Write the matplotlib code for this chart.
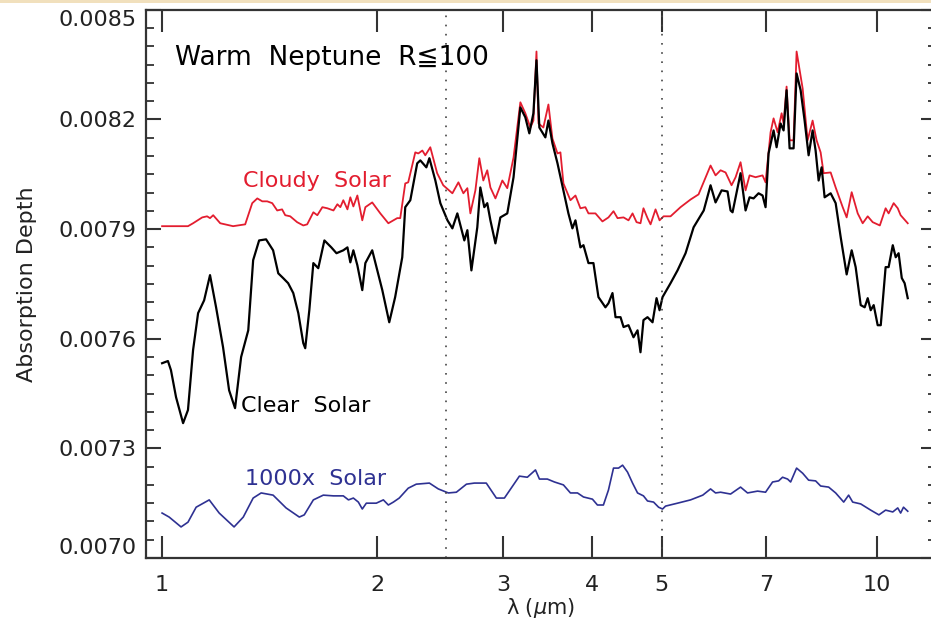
import matplotlib
matplotlib.use("Agg")
import matplotlib.pyplot as plt
from matplotlib.ticker import FixedLocator, NullLocator, MultipleLocator
from matplotlib.patches import Rectangle

plt.rcParams['font.family'] = ['DejaVu Sans', 'Noto Sans CJK JP']

# Clear solar (black)
clear_wl = [1.000, 1.019, 1.029, 1.046, 1.070, 1.087, 1.105, 1.123, 1.145, 1.167,
            1.190, 1.217, 1.241, 1.265, 1.290, 1.320, 1.341, 1.367, 1.398, 1.430,
            1.454, 1.477, 1.501, 1.526, 1.551, 1.576, 1.586, 1.607, 1.628, 1.654,
            1.687, 1.725, 1.754, 1.793, 1.817, 1.834, 1.852, 1.876, 1.906, 1.925,
            1.968, 2.033, 2.079, 2.119, 2.168, 2.189, 2.225, 2.275, 2.298, 2.343,
            2.366, 2.412, 2.451, 2.508, 2.548, 2.589, 2.648, 2.674, 2.709, 2.761,
            2.788, 2.824, 2.851, 2.880, 2.927, 2.974, 3.041, 3.103, 3.172, 3.223,
            3.265, 3.308, 3.341, 3.372, 3.438, 3.472, 3.517, 3.575, 3.644, 3.703,
            3.751, 3.788, 3.849, 3.887, 3.950, 4.014, 4.079, 4.172, 4.213, 4.268,
            4.310, 4.380, 4.423, 4.494, 4.567, 4.627, 4.671, 4.716, 4.778, 4.856,
            4.919, 4.967, 5.015, 5.146, 5.263, 5.401, 5.543, 5.727, 5.854, 5.949,
            6.066, 6.183, 6.244, 6.284, 6.448, 6.553, 6.638, 6.724, 6.833, 6.922,
            6.989, 7.057, 7.172, 7.242, 7.336, 7.407, 7.479, 7.552, 7.650, 7.724,
            7.825, 7.926, 8.029, 8.133, 8.212, 8.292, 8.373, 8.454, 8.620, 8.760,
            8.903, 9.076, 9.224, 9.343, 9.496, 9.619, 9.713, 9.807, 9.902, 10.03,
            10.13, 10.29, 10.39, 10.53, 10.63, 10.73, 10.84, 10.94, 11.05]
clear_depth = [0.007533, 0.007539, 0.007514, 0.007440, 0.007369, 0.007405, 0.007569, 0.007670, 0.007705, 0.007774,
               0.007686, 0.007577, 0.007459, 0.007410, 0.007550, 0.007623, 0.007815, 0.007869, 0.007872, 0.007842,
               0.007779, 0.007766, 0.007752, 0.007725, 0.007670, 0.007588, 0.007574, 0.007678, 0.007807, 0.007793,
               0.007869, 0.007850, 0.007834, 0.007842, 0.007850, 0.007809, 0.007842, 0.007801, 0.007733, 0.007807,
               0.007842, 0.007733, 0.007645, 0.007714, 0.007823, 0.007960, 0.007979, 0.008080, 0.008088, 0.008069,
               0.008094, 0.008033, 0.007971, 0.007924, 0.007902, 0.007943, 0.007869, 0.007897, 0.007787, 0.007905,
               0.008014, 0.007960, 0.007971, 0.007924, 0.007861, 0.007932, 0.007943, 0.008042, 0.008233, 0.008206,
               0.008162, 0.008217, 0.008362, 0.008178, 0.008151, 0.008197, 0.008135, 0.008080, 0.008006, 0.007943,
               0.007902, 0.007924, 0.007850, 0.007856, 0.007807, 0.007807, 0.007714, 0.007686, 0.007697, 0.007725,
               0.007659, 0.007659, 0.007632, 0.007637, 0.007604, 0.007623, 0.007563, 0.007651, 0.007659, 0.007645,
               0.007711, 0.007678, 0.007714, 0.007752, 0.007787, 0.007834, 0.007905, 0.007951, 0.008020, 0.007973,
               0.008006, 0.008003, 0.007951, 0.007946, 0.008053, 0.007951, 0.007987, 0.007984, 0.007998, 0.007992,
               0.007960, 0.008107, 0.008170, 0.008124, 0.008189, 0.008170, 0.008280, 0.008121, 0.008121, 0.008326,
               0.008280, 0.008197, 0.008102, 0.008170, 0.008115, 0.008033, 0.008069, 0.007987, 0.007998, 0.007971,
               0.007878, 0.007776, 0.007842, 0.007796, 0.007692, 0.007686, 0.007711, 0.007678, 0.007692, 0.007637,
               0.007637, 0.007796, 0.007796, 0.007856, 0.007823, 0.007834, 0.007766, 0.007752, 0.007711]

# Cloudy solar (red)
cloudy_wl = [1.000, 1.087, 1.105, 1.138, 1.156, 1.167, 1.179, 1.206, 1.257, 1.307,
             1.337, 1.359, 1.381, 1.403, 1.426, 1.449, 1.472, 1.487, 1.511, 1.545,
             1.576, 1.596, 1.628, 1.649, 1.676, 1.703, 1.737, 1.759, 1.776, 1.793,
             1.817, 1.834, 1.852, 1.876, 1.906, 1.925, 1.968, 2.020, 2.073, 2.133,
             2.154, 2.189, 2.210, 2.261, 2.283, 2.313, 2.335, 2.373, 2.426, 2.474,
             2.548, 2.598, 2.640, 2.674, 2.700, 2.744, 2.779, 2.815, 2.851, 2.880,
             2.927, 2.993, 3.041, 3.103, 3.172, 3.223, 3.276, 3.308, 3.341, 3.363,
             3.416, 3.472, 3.517, 3.575, 3.609, 3.644, 3.727, 3.788, 3.849, 3.911,
             3.950, 4.040, 4.132, 4.213, 4.282, 4.338, 4.423, 4.494, 4.553, 4.612,
             4.671, 4.716, 4.778, 4.825, 4.903, 4.967, 5.032, 5.146, 5.314, 5.489,
             5.632, 5.854, 5.949, 6.046, 6.144, 6.264, 6.346, 6.448, 6.553, 6.638,
             6.768, 6.922, 6.989, 7.103, 7.172, 7.266, 7.360, 7.407, 7.479, 7.552,
             7.650, 7.724, 7.876, 8.003, 8.133, 8.238, 8.346, 8.427, 8.620, 8.760,
             8.961, 9.076, 9.224, 9.405, 9.557, 9.713, 9.870, 10.10, 10.29, 10.39,
             10.56, 10.70, 10.80, 11.05]
cloudy_depth = [0.007908, 0.007908, 0.007916, 0.007932, 0.007935, 0.007930, 0.007938, 0.007916, 0.007908, 0.007913,
                0.007971, 0.007984, 0.007976, 0.007976, 0.007971, 0.007951, 0.007954, 0.007938, 0.007935, 0.007919,
                0.007910, 0.007913, 0.007946, 0.007938, 0.007960, 0.007957, 0.007951, 0.007968, 0.007960, 0.007979,
                0.007954, 0.007987, 0.007962, 0.007992, 0.007924, 0.007960, 0.007973, 0.007943, 0.007916, 0.007930,
                0.007930, 0.008025, 0.008028, 0.008110, 0.008107, 0.008115, 0.008102, 0.008124, 0.008053, 0.008020,
                0.007998, 0.008028, 0.007998, 0.008012, 0.007943, 0.008006, 0.008094, 0.008033, 0.008061, 0.008014,
                0.007984, 0.008033, 0.008012, 0.008096, 0.008247, 0.008217, 0.008178, 0.008197, 0.008386, 0.008189,
                0.008178, 0.008241, 0.008148, 0.008107, 0.008110, 0.008025, 0.007979, 0.007992, 0.007957, 0.007960,
                0.007943, 0.007943, 0.007921, 0.007932, 0.007949, 0.007930, 0.007932, 0.007924, 0.007943, 0.007919,
                0.007916, 0.007957, 0.007930, 0.007913, 0.007954, 0.007924, 0.007935, 0.007935, 0.007960, 0.007981,
                0.007995, 0.008074, 0.008047, 0.008061, 0.008055, 0.008020, 0.008042, 0.008083, 0.008006, 0.008047,
                0.008042, 0.008047, 0.008028, 0.008165, 0.008203, 0.008165, 0.008217, 0.008189, 0.008290, 0.008143,
                0.008143, 0.008386, 0.008285, 0.008143, 0.008197, 0.008143, 0.008110, 0.008053, 0.008055, 0.008014,
                0.007960, 0.007932, 0.008001, 0.007943, 0.007916, 0.007935, 0.007919, 0.007910, 0.007957, 0.007943,
                0.007971, 0.007957, 0.007938, 0.007916]

# 1000x solar (blue)
metal_wl = [1.000, 1.023, 1.063, 1.087, 1.116, 1.164, 1.202, 1.261, 1.299, 1.341,
            1.376, 1.430, 1.491, 1.556, 1.581, 1.628, 1.681, 1.737, 1.793, 1.823,
            1.852, 1.882, 1.906, 1.931, 1.994, 2.040, 2.073, 2.107, 2.147, 2.210,
            2.268, 2.366, 2.435, 2.515, 2.581, 2.666, 2.735, 2.842, 2.936, 3.013,
            3.162, 3.244, 3.330, 3.373, 3.460, 3.540, 3.644, 3.727, 3.813, 3.887,
            4.001, 4.066, 4.145, 4.213, 4.282, 4.352, 4.409, 4.480, 4.553, 4.627,
            4.716, 4.778, 4.872, 4.951, 5.015, 5.064, 5.263, 5.489, 5.709, 5.854,
            5.949, 6.046, 6.244, 6.448, 6.595, 6.811, 6.989, 7.149, 7.289, 7.383,
            7.503, 7.577, 7.724, 7.876, 8.029, 8.212, 8.346, 8.564, 8.760, 8.990,
            9.134, 9.254, 9.496, 9.807, 10.07, 10.29, 10.53, 10.70, 10.80, 10.90,
            11.05]
metal_depth = [0.007123, 0.007112, 0.007085, 0.007098, 0.007139, 0.007159, 0.007123, 0.007085, 0.007112, 0.007164,
               0.007178, 0.007172, 0.007137, 0.007112, 0.007118, 0.007159, 0.007172, 0.007170, 0.007170, 0.007159,
               0.007164, 0.007153, 0.007134, 0.007150, 0.007150, 0.007159, 0.007145, 0.007153, 0.007164, 0.007191,
               0.007202, 0.007205, 0.007189, 0.007178, 0.007180, 0.007202, 0.007205, 0.007205, 0.007164, 0.007164,
               0.007224, 0.007221, 0.007241, 0.007216, 0.007216, 0.007208, 0.007200, 0.007178, 0.007178, 0.007167,
               0.007161, 0.007145, 0.007145, 0.007186, 0.007246, 0.007246, 0.007254, 0.007235, 0.007205, 0.007178,
               0.007170, 0.007156, 0.007153, 0.007139, 0.007134, 0.007142, 0.007150, 0.007159, 0.007172, 0.007189,
               0.007178, 0.007180, 0.007175, 0.007194, 0.007178, 0.007183, 0.007180, 0.007208, 0.007211, 0.007221,
               0.007216, 0.007208, 0.007246, 0.007232, 0.007213, 0.007211, 0.007197, 0.007194, 0.007178, 0.007153,
               0.007172, 0.007153, 0.007148, 0.007131, 0.007118, 0.007131, 0.007126, 0.007137, 0.007123, 0.007139,
               0.007128]

xticks = [1, 2, 3, 4, 5, 7, 10]
yticks = [0.0070, 0.0073, 0.0076, 0.0079, 0.0082, 0.0085]
band_edges = [2.5, 5.0]

RED = '#e31d2f'
NAVY = '#2e3192'
AX_COL = '#333333'

fig = plt.figure(figsize=(9.31, 6.31), dpi=100)
ax = fig.add_axes([0.157, 0.1157, 0.848, 0.8687])

ax.plot(cloudy_wl, cloudy_depth, color=RED, lw=1.3)
ax.plot(clear_wl, clear_depth, color='black', lw=1.6)
ax.plot(metal_wl, metal_depth, color=NAVY, lw=1.2)
for xv in band_edges:
    ax.axvline(xv, color='#444444', lw=1.2, linestyle=(0, (1, 4.5)))

ax.set_xscale('log')
ax.set_xlim(0.95, 12.09)
ax.set_ylim(0.0070, 0.0085)
ax.xaxis.set_major_locator(FixedLocator(xticks))
ax.xaxis.set_minor_locator(NullLocator())
ax.set_xticklabels([str(t) for t in xticks])
ax.set_yticks(yticks)
ax.set_yticklabels(['%.4f' % v for v in yticks])
ax.yaxis.set_minor_locator(MultipleLocator(0.00005))

ax.tick_params(axis='x', which='major', direction='in', length=15.5, width=1.5,
               top=True, bottom=True, labelsize=16, pad=12, color=AX_COL,
               labelcolor='#222222')
ax.tick_params(axis='y', which='major', direction='in', length=11, width=1.5,
               left=True, right=True, labelsize=16, pad=7, color=AX_COL,
               labelcolor='#222222')
ax.tick_params(axis='y', which='minor', direction='in', length=5.5, width=1.3,
               left=True, right=True, color=AX_COL)
for sp in ax.spines.values():
    sp.set_linewidth(1.6)
    sp.set_color(AX_COL)

ylabs = ax.get_yticklabels()
ylabs[0].set_va('bottom')
ylabs[-1].set_va('top')

ax.set_xlabel('λ ($\\mu$m)', fontsize=15, labelpad=1, color='#222222')
ax.set_ylabel('Absorption Depth', fontsize=16, labelpad=15, color='#222222')

ax.text(1.043, 0.008348, 'Warm  Neptune  R≦100', fontsize=19, color='black',
        va='baseline', ha='left')
ax.text(1.297, 0.008014, 'Cloudy  Solar', fontsize=16, color=RED, va='baseline')
ax.text(1.29, 0.007399, 'Clear  Solar', fontsize=16, color='black', va='baseline')
ax.text(1.307, 0.007200, '1000x  Solar', fontsize=16, color=NAVY, va='baseline')

fig.patches.append(Rectangle((0, 0.995), 1, 0.005, transform=fig.transFigure,
                             facecolor='#f1e0bd', edgecolor='none'))

fig.savefig('out.png', dpi=100)
